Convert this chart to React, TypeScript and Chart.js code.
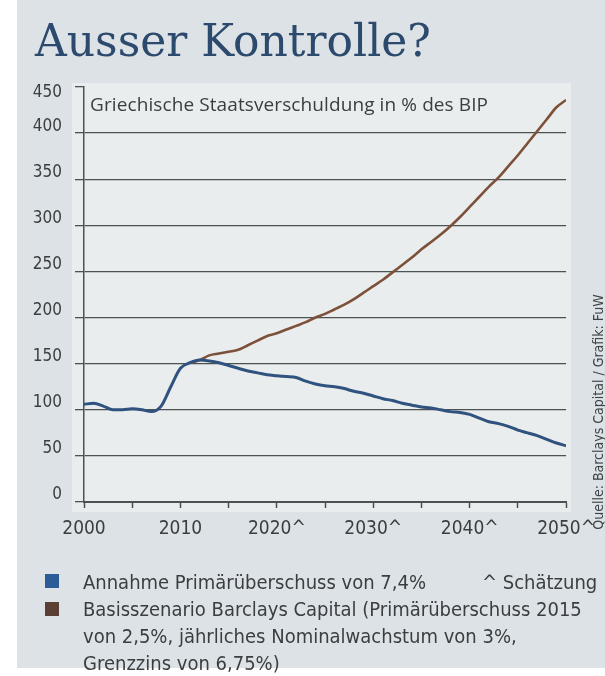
import React, { useEffect, useRef } from "react";
import { Chart, registerables } from "chart.js";

Chart.register(...registerables);

const years = [
  2000, 2001, 2002, 2003, 2004, 2005, 2006, 2007, 2008, 2009,
  2010, 2011, 2012, 2013, 2014, 2015, 2016, 2017, 2018, 2019,
  2020, 2021, 2022, 2023, 2024, 2025, 2026, 2027, 2028, 2029,
  2030, 2031, 2032, 2033, 2034, 2035, 2036, 2037, 2038, 2039,
  2040, 2041, 2042, 2043, 2044, 2045, 2046, 2047, 2048, 2049, 2050,
];

// Annahme Primärüberschuss von 7,4%
const primaryScenario = [
  106, 107, 104, 100, 100, 101, 100, 98, 104, 125,
  145, 151, 154, 153, 151, 148, 145, 142, 140, 138,
  137, 136, 135, 131, 128, 126, 125, 123, 120, 118,
  115, 112, 110, 107, 105, 103, 102, 100, 98, 97,
  95, 91, 87, 85, 82, 78, 75, 72, 68, 64, 61,
];

// Basisszenario Barclays Capital
const barclaysScenario = [
  null, null, null, null, null, null, null, null, null, null,
  null, 151, 154, 159, 161, 163, 165, 170, 175, 180,
  183, 187, 191, 195, 200, 204, 209, 214, 220, 227,
  234, 241, 249, 257, 265, 274, 282, 290, 299, 309,
  320, 331, 342, 352, 364, 376, 389, 402, 415, 428, 436,
];

const xTickYears = [2000, 2010, 2020, 2030, 2040, 2050];
const xTickLabels = ["2000", "2010", "2020^", "2030^", "2040^", "2050^"];
const yMin = 0;
const yMax = 450;
const yStep = 50;

const titleText = "Ausser Kontrolle?";
const subtitleText = "Griechische Staatsverschuldung in % des BIP";
const legendPrimary = "Annahme Primärüberschuss von 7,4%";
const legendEstimate = "^ Schätzung";
const legendBarclaysLines = [
  "Basisszenario Barclays Capital (Primärüberschuss 2015",
  "von 2,5%, jährliches Nominalwachstum von 3%,",
  "Grenzzins von 6,75%)",
];
const sourceText = "Quelle: Barclays Capital / Grafik: FuW";

const BLUE_LINE = "#30527f";
const BROWN_LINE = "#7d503a";
const BLUE_BOX = "#2b5c98";
const BROWN_BOX = "#5a4034";
const AXIS = "#4c5254";
const TEXT = "#3a3e41";
const NARROW = "'Liberation Sans Narrow', 'DejaVu Sans Condensed', 'Open Sans', sans-serif";

const panelPlugin = {
  id: "panel",
  beforeDraw(chart: any) {
    const { ctx, chartArea: a } = chart;
    ctx.save();
    ctx.fillStyle = "#e9eded";
    ctx.fillRect(a.left - 12, a.top - 4, a.right - a.left + 17, a.bottom - a.top + 14);
    ctx.restore();
  },
};

// the top tick label (450) sits slightly below its tick in the original
const topLabelPlugin = {
  id: "topLabel",
  afterDraw(chart: any) {
    const { ctx } = chart;
    const y = chart.scales.y;
    ctx.save();
    ctx.font = `17px ${NARROW}`;
    ctx.fillStyle = TEXT;
    ctx.textAlign = "right";
    ctx.textBaseline = "middle";
    ctx.fillText(String(yMax), y.right - 9 - 13, y.getPixelForValue(yMax) + 6);
    ctx.restore();
  },
};

export default function App() {
  const ref = useRef<HTMLCanvasElement | null>(null);

  useEffect(() => {
    if (!ref.current) return;
    const chart = new Chart(ref.current, {
      type: "line",
      data: {
        datasets: [
          {
            label: legendPrimary,
            data: years.map((x, i) => ({ x, y: primaryScenario[i] })),
            borderColor: BLUE_LINE,
            borderWidth: 3,
            pointRadius: 0,
            tension: 0.35,
            cubicInterpolationMode: "monotone",
          },
          {
            label: legendBarclaysLines[0],
            data: years.map((x, i) => ({ x, y: barclaysScenario[i] })),
            borderColor: BROWN_LINE,
            borderWidth: 2.6,
            pointRadius: 0,
            tension: 0.35,
            cubicInterpolationMode: "monotone",
          },
        ] as any,
      },
      options: {
        animation: false,
        responsive: false,
        devicePixelRatio: 1,
        layout: { padding: { left: 0, top: 87, right: 38, bottom: 134 } },
        plugins: { legend: { display: false }, tooltip: { enabled: false } },
        scales: {
          x: {
            type: "linear",
            min: 2000,
            max: 2050,
            afterFit(s: any) {
              s.height = 40;
            },
            afterBuildTicks(s: any) {
              const t: any[] = [];
              for (let i = 0; i < years.length; i++) {
                if ((years[i] - 2000) % 5 === 0) t.push({ value: years[i] });
              }
              s.ticks = t;
            },
            ticks: {
              autoSkip: false,
              maxRotation: 0,
              padding: 10,
              color: TEXT,
              font: { family: NARROW, size: 19 },
              callback(v: any) {
                const idx = xTickYears.indexOf(Number(v));
                return idx >= 0 ? xTickLabels[idx] : "";
              },
            },
            grid: {
              drawOnChartArea: false,
              drawTicks: true,
              tickLength: 6,
              tickColor: AXIS,
              tickWidth: 1.5,
            },
            border: { display: true, color: AXIS, width: 2 },
          },
          y: {
            min: yMin,
            max: yMax,
            afterFit(s: any) {
              s.width = 84;
            },
            ticks: {
              stepSize: yStep,
              padding: 13,
              labelOffset: -7,
              color: TEXT,
              font: { family: NARROW, size: 17 },
              callback(v: any) {
                return Number(v) === yMax ? "" : String(v);
              },
            },
            grid: {
              color: (c: any) =>
                c.tick && (c.tick.value === yMax || c.tick.value === yMin) ? "rgba(0,0,0,0)" : AXIS,
              lineWidth: 1.3,
              tickLength: 9,
              tickColor: AXIS,
              tickWidth: 1.3,
            },
            border: { display: true, color: AXIS, width: 1.5 },
          },
        },
      },
      plugins: [panelPlugin, topLabelPlugin],
    } as any);
    return () => chart.destroy();
  }, []);

  return (
    <div
      style={{
        position: "absolute",
        left: 0,
        top: 0,
        width: 605,
        height: 676,
        overflow: "hidden",
        background: "#ffffff",
      }}
    >
      <div
        style={{
          position: "absolute",
          left: 17,
          top: 0,
          width: 588,
          height: 668,
          background: "#dce2e5",
        }}
      />
      <canvas
        ref={ref}
        width={605}
        height={676}
        style={{ position: "absolute", left: 0, top: 0, width: 605, height: 676 }}
      />
      <div
        style={{
          position: "absolute",
          left: 35,
          top: 19,
          fontFamily: "'DejaVu Serif', serif",
          fontSize: 44,
          lineHeight: "44px",
          color: "#2c4a6e",
          whiteSpace: "nowrap",
        }}
      >
        {titleText}
      </div>
      <div
        style={{
          position: "absolute",
          left: 90,
          top: 93,
          fontFamily: "'Open Sans', sans-serif",
          fontSize: 19,
          lineHeight: "22px",
          letterSpacing: 0.1,
          color: TEXT,
          whiteSpace: "nowrap",
        }}
      >
        {subtitleText}
      </div>
      <div style={{ position: "absolute", left: 45, top: 574, width: 14, height: 14, background: BLUE_BOX }} />
      <div style={{ position: "absolute", left: 45, top: 602, width: 14, height: 14, background: BROWN_BOX }} />
      <div
        style={{
          position: "absolute",
          left: 83,
          top: 569,
          fontFamily: NARROW,
          fontSize: 20,
          lineHeight: "27px",
          color: TEXT,
          whiteSpace: "nowrap",
        }}
      >
        <div>{legendPrimary}</div>
        {legendBarclaysLines.map((l) => (
          <div key={l}>{l}</div>
        ))}
      </div>
      <div
        style={{
          position: "absolute",
          left: 482,
          top: 569,
          fontFamily: NARROW,
          fontSize: 20,
          lineHeight: "27px",
          color: TEXT,
          whiteSpace: "nowrap",
        }}
      >
        {legendEstimate}
      </div>
      <div
        style={{
          position: "absolute",
          left: 448,
          top: 404,
          width: 300,
          height: 16,
          transform: "rotate(-90deg)",
          transformOrigin: "150px 8px",
          fontFamily: NARROW,
          fontSize: 14,
          lineHeight: "16px",
          color: "#3f4345",
          textAlign: "center",
          whiteSpace: "nowrap",
        }}
      >
        {sourceText}
      </div>
    </div>
  );
}
